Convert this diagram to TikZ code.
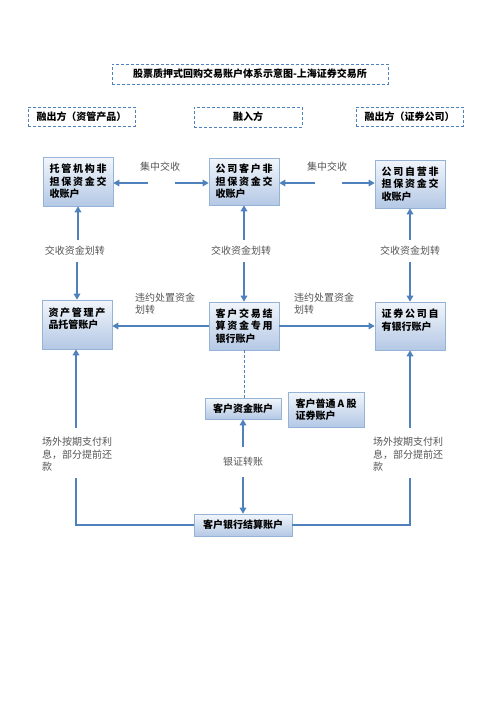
\documentclass[tikz,border=0pt]{standalone}
\usepackage{fontspec}
\setmainfont{Noto Sans CJK SC}
\usetikzlibrary{arrows.meta,shadows,calc}
\definecolor{ablue}{RGB}{79,129,189}
\definecolor{bline}{RGB}{149,179,215}
\definecolor{btop}{RGB}{242,246,251}
\definecolor{bbot}{RGB}{180,200,229}
\definecolor{lgray}{RGB}{85,85,85}
\def\sprI#1#2{#1\ifx\relax#2\else\hfil\expandafter\sprI\expandafter#2\fi}
\newcommand\spr[1]{\makebox[57pt][s]{\sprI#1\relax}}
\tikzset{
  acct/.style={draw=bline, line width=0.6pt, top color=btop, bottom color=bbot,
    drop shadow={shadow xshift=1.2pt, shadow yshift=-1.2pt, fill=black!40, opacity=.5},
    inner xsep=6.5pt, inner ysep=0pt, align=left,
    font=\bfseries\fontsize{10pt}{12.5pt}\selectfont},
  hdr/.style={draw=ablue, dashed, dash pattern=on 3pt off 2pt, line width=0.9pt,
    inner sep=0pt, font=\bfseries\fontsize{10pt}{12pt}\selectfont},
  lbl/.style={text=lgray, font=\fontsize{10pt}{12.5pt}\selectfont, inner xsep=0pt},
  arr/.style={draw=ablue, line width=2pt, -{Triangle[length=6pt,width=6.5pt]}},
  ln/.style={draw=ablue, line width=2pt}
}
\begin{document}
\begin{tikzpicture}[x=1pt,y=-1pt]
\useasboundingbox (0,0) rectangle (496,702);
% headers
\node[hdr, minimum width=276pt, minimum height=20pt] (t) at (250,74) {股票质押式回购交易账户体系示意图-上海证券交易所};
\node[hdr, minimum width=107pt, minimum height=19pt] (h1) at (81.5,116.5) {融出方（资管产品）};
\node[hdr, minimum width=108pt, minimum height=20pt] (h2) at (248,117) {融入方};
\node[hdr, minimum width=107pt, minimum height=19pt] (h3) at (409.5,116.5) {融出方（证券公司）};
% top row boxes
\node[acct, text width=57pt, minimum height=49pt] (b1) at (78,181.5) {\spr{托管机构非}\\\spr{担保资金交}\\收账户};
\node[acct, text width=57pt, minimum height=47pt] (b2) at (244,181.5) {\spr{公司客户非}\\\spr{担保资金交}\\收账户};
\node[acct, text width=57pt, minimum height=48pt] (b3) at (410,184) {\spr{公司自营非}\\\spr{担保资金交}\\收账户};
% middle row
\node[acct, text width=57pt, minimum height=49pt] (b4) at (77,324.5) {\spr{资产管理产}\\品托管账户\\\mbox{}};
\node[acct, text width=57pt, minimum height=48pt] (b5) at (244,326) {\spr{客户交易结}\\\spr{算资金专用}\\银行账户};
\node[acct, text width=57pt, minimum height=48pt] (b6) at (410,326) {\spr{证券公司自}\\有银行账户\\\mbox{}};
% lower boxes
\node[acct, align=center, minimum width=76pt, minimum height=21pt] (b7) at (243,408.5) {客户资金账户};
\node[acct, text width=61pt, inner xsep=7.5pt, minimum height=35pt, font=\bfseries\fontsize{10pt}{11.5pt}\selectfont] (b8) at (326,409.5) {\makebox[61pt][s]{客户普通\hfil A\hfil 股}\\证券账户};
\node[acct, align=center, minimum width=98pt, minimum height=22pt] (b9) at (243,525) {客户银行结算账户};
% labels
\node[lbl] (c1) at (160,167) {集中交收};
\node[lbl] (c2) at (327,167) {集中交收};
\node[lbl, inner ysep=6pt] (l1) at (75,251) {交收资金划转};
\node[lbl, inner ysep=6pt] (l2) at (241,251) {交收资金划转};
\node[lbl, inner ysep=6pt] (l3) at (410,251) {交收资金划转};
\node[lbl, align=left, anchor=north west] (d1) at (135,289) {违约处置资金\\划转};
\node[lbl, align=left, anchor=north west] (d2) at (294,289) {违约处置资金\\划转};
\node[lbl, inner ysep=10pt] (yy) at (243,462) {银证转账};
\node[lbl, align=left, anchor=north west] (s1) at (42,434) {场外按期支付利\\息，部分提前还\\款};
\node[lbl, align=left, anchor=north west] (s2) at (373,434) {场外按期支付利\\息，部分提前还\\款};
% gap coordinates
\coordinate (ga) at (148,183);
\coordinate (gb) at (175,183);
\coordinate (gc) at (315,183);
\coordinate (gd) at (342,183);
\coordinate (sl1) at (76,428);
\coordinate (sl2) at (76,478);
\coordinate (sr1) at (410,428);
\coordinate (sr2) at (410,478);
% connectors
\draw[arr] (ga) -- (ga -| b1.east);
\draw[arr] (gb) -- (gb -| b2.west);
\draw[arr] (gc) -- (gc -| b2.east);
\draw[arr] (gd) -- (gd -| b3.west);
\draw[arr] (b1.south |- l1.north) -- (b1.south);
\draw[arr] (b4.north |- l1.south) -- (b4.north);
\draw[arr] (b2.south |- l2.north) -- (b2.south);
\draw[arr] (b5.north |- l2.south) -- (b5.north);
\draw[arr] (b3.south |- l3.north) -- (b3.south);
\draw[arr] (b6.north |- l3.south) -- (b6.north);
\draw[arr] (b5.west) -- (b5.west -| b4.east);
\draw[arr] (b5.east) -- (b5.east -| b6.west);
\draw[ablue, line width=0.8pt, dashed, dash pattern=on 3pt off 2pt] (b5.south) -- (b5.south |- b7.north);
\draw[arr] (b7.south |- yy.north) -- (b7.south);
\draw[arr] (b9.north |- yy.south) -- (b9.north);
\draw[ln] (b9.west) -| (sl2);
\draw[arr] (sl1) -- (sl1 |- b4.south);
\draw[ln] (b9.east) -| (sr2);
\draw[arr] (sr1) -- (sr1 |- b6.south);
\end{tikzpicture}
\end{document}
